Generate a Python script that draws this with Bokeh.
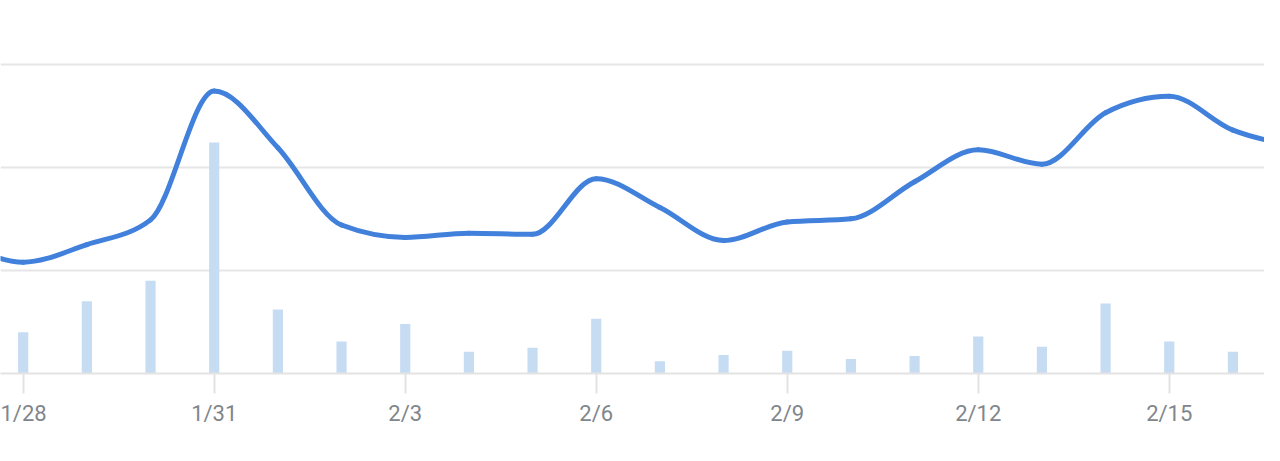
import numpy as np
from bokeh.plotting import figure
from bokeh.models import Range1d, FixedTicker, ColumnDataSource
from bokeh.embed import file_html
from bokeh.resources import INLINE

# ---- data ----
dates = ["1/27", "1/28", "1/29", "1/30", "1/31", "2/1", "2/2", "2/3", "2/4", "2/5", "2/6",
         "2/7", "2/8", "2/9", "2/10", "2/11", "2/12", "2/13", "2/14", "2/15", "2/16", "2/17"]
line_values = [129, 108, 125, 149, 274, 219, 144, 132, 136, 135, 189,
               161, 129, 147, 150, 186, 217, 203, 253, 269, 236, 221]
bar_dates = ["1/28", "1/29", "1/30", "1/31", "2/1", "2/2", "2/3", "2/4", "2/5", "2/6",
             "2/7", "2/8", "2/9", "2/10", "2/11", "2/12", "2/13", "2/14", "2/15", "2/16"]
bar_values = [4.0, 7.0, 9.0, 22.4, 6.2, 3.1, 4.8, 2.1, 2.5, 5.3,
              1.2, 1.8, 2.2, 1.4, 1.7, 3.6, 2.6, 6.8, 3.1, 2.1]
tick_labels = ["1/28", "1/31", "2/3", "2/6", "2/9", "2/12", "2/15"]

# index positions (day number, 1/28 = 0)
idx = {d: i - 1 for i, d in enumerate(dates)}
lx = np.array([idx[d] for d in dates], dtype=float)
ly = np.array(line_values, dtype=float)
bx = [idx[d] for d in bar_dates]
tick_pos = [idx[t] for t in tick_labels]

# monotone (d3 monotoneX) bezier control points for the smooth line
n = len(lx)
h = np.diff(lx)
s = np.diff(ly) / h
t = np.zeros(n)
for i in range(1, n - 1):
    s0, s1 = s[i - 1], s[i]
    pp = (s0 * h[i] + s1 * h[i - 1]) / (h[i - 1] + h[i])
    t[i] = (np.sign(s0) + np.sign(s1)) * min(abs(s0), abs(s1), 0.5 * abs(pp))
t[0] = (3 * s[0] - t[1]) / 2
t[-1] = (3 * s[-1] - t[-2]) / 2
seg = ColumnDataSource(dict(
    x0=lx[:-1], y0=ly[:-1], x1=lx[1:], y1=ly[1:],
    cx0=lx[:-1] + h / 3, cy0=ly[:-1] + h * t[:-1] / 3,
    cx1=lx[1:] - h / 3, cy1=ly[1:] - h * t[1:] / 3,
))

px_per_day = 63.67
x_start = -22.7 / px_per_day
x_end = x_start + 1264 / px_per_day

p = figure(width=1264, height=445, output_backend="svg", toolbar_location=None,
           x_range=Range1d(x_start, x_end), y_range=Range1d(0, 361.8),
           y_axis_location=None, min_border_left=0, min_border_right=0,
           min_border_top=0, min_border_bottom=72)
p.extra_y_ranges = {"bars": Range1d(0, 36.18)}
p.outline_line_color = None
p.background_fill_color = "white"
p.border_fill_color = "white"

p.vbar(x=bx, top=bar_values, bottom=0, width=0.16, y_range_name="bars",
       fill_color="#c6dcf3", line_color=None)
p.bezier(x0="x0", y0="y0", x1="x1", y1="y1", cx0="cx0", cy0="cy0", cx1="cx1", cy1="cy1",
         source=seg, line_color="#4180db", line_width=5, line_cap="round")

p.xgrid.visible = False
p.ygrid.ticker = FixedTicker(ticks=[100, 200, 300])
p.ygrid.grid_line_color = "#e6e6e6"
p.ygrid.grid_line_width = 2

ax = p.xaxis[0]
ax.ticker = FixedTicker(ticks=tick_pos)
ax.major_label_overrides = {pos: lab for pos, lab in zip(tick_pos, tick_labels)}
ax.axis_line_color = "#e3e3e3"
ax.axis_line_width = 2
ax.major_tick_line_color = "#e3e3e3"
ax.major_tick_line_width = 2
ax.major_tick_out = 20
ax.major_tick_in = 0
ax.minor_tick_line_color = None
ax.major_label_text_font = "Roboto"
ax.major_label_text_font_size = "22px"
ax.major_label_text_color = "#80868b"
ax.major_label_standoff = 7

open("out.html", "w").write(file_html(p, INLINE))
